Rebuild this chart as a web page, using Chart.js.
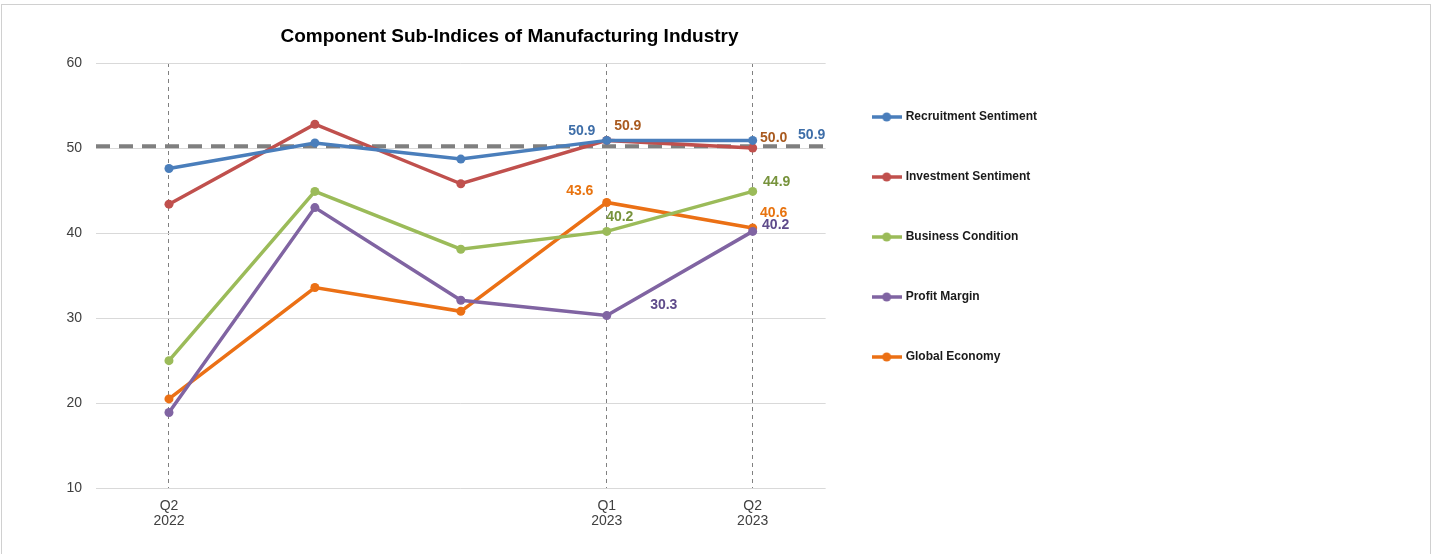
<!DOCTYPE html>
<html>
<head>
<meta charset="utf-8">
<script src="https://cdn.jsdelivr.net/npm/chart.js@4.4.0/dist/chart.umd.min.js"></script>
<style>
  body { margin: 0; background: #fff; width: 1435px; height: 554px; overflow: hidden; position: relative; }
  #frame { position: absolute; left: 1px; top: 4px; width: 1428px; height: 570px; border: 1px solid #d0d0d0; }
  #wrap { position: absolute; left: -28px; top: 0; width: 1075px; height: 554px; }
</style>
</head>
<body>
<div id="frame"></div>
<div id="wrap"><canvas id="myChart"></canvas></div>
<script>
// Quarters on the x-axis, only some of them get a label
var quarters = ["Q2 2022", "Q3 2022", "Q4 2022", "Q1 2023", "Q2 2023"];
var tickLabels = [["Q2", "2022"], "", "", ["Q1", "2023"], ["Q2", "2023"]];

// Sub-index values
var recruitment = [47.6, 50.6, 48.7, 50.9, 50.9];
var investment = [43.4, 52.8, 45.8, 50.9, 50.0];
var business = [25.0, 44.9, 38.1, 40.2, 44.9];
var profit = [18.9, 43.0, 32.1, 30.3, 40.2];
var globalEcon = [20.5, 33.6, 30.8, 43.6, 40.6];

// the dashed reference line
var threshold = 50.2;

// value labels: dataset, point index, offset and colour
var valueLabels = [
  { ds: 0, i: 3, dx: -25, dy: -9, color: "#3e6ea8" },
  { ds: 0, i: 4, dx: 59, dy: -5, color: "#3e6ea8" },
  { ds: 1, i: 3, dx: 21, dy: -14, color: "#a95a1f" },
  { ds: 1, i: 4, dx: 21, dy: -10, color: "#a95a1f" },
  { ds: 2, i: 3, dx: 13, dy: -14, color: "#77933c" },
  { ds: 2, i: 4, dx: 24, dy: -9, color: "#77933c" },
  { ds: 3, i: 3, dx: 57, dy: -10, color: "#5f4b8b" },
  { ds: 3, i: 4, dx: 23, dy: -6, color: "#5f4b8b" },
  { ds: 4, i: 3, dx: -27, dy: -11, color: "#e8730f" },
  { ds: 4, i: 4, dx: 21, dy: -15, color: "#e8730f" }
];

function legendIcon(color) {
  var c = document.createElement("canvas");
  c.width = 30;
  c.height = 10;
  var g = c.getContext("2d");
  g.strokeStyle = color;
  g.lineWidth = 3.5;
  g.beginPath();
  g.moveTo(0, 5);
  g.lineTo(30, 5);
  g.stroke();
  g.fillStyle = color;
  g.beginPath();
  g.arc(15, 5, 4.5, 0, Math.PI * 2);
  g.fill();
  return c;
}

function series(label, data, color) {
  return {
    label: label,
    data: data,
    borderColor: color,
    backgroundColor: color,
    borderWidth: 3.5,
    pointRadius: 4.5,
    pointHoverRadius: 4.5,
    pointBorderWidth: 0,
    tension: 0,
    fill: false,
    icon: legendIcon(color)
  };
}

var thresholdLine = {
  id: "thresholdLine",
  beforeDatasetsDraw: function(chart) {
    var ctx = chart.ctx, area = chart.chartArea;
    var y = chart.scales.y.getPixelForValue(threshold);
    ctx.save();
    ctx.strokeStyle = "#7f7f7f";
    ctx.lineWidth = 4;
    ctx.setLineDash([14, 9]);
    ctx.beginPath();
    ctx.moveTo(area.left, y);
    ctx.lineTo(area.right, y);
    ctx.stroke();
    ctx.restore();
  }
};

var pointLabels = {
  id: "pointLabels",
  afterDatasetsDraw: function(chart) {
    var ctx = chart.ctx;
    ctx.save();
    ctx.font = "bold 14px Arial, 'Liberation Sans'";
    ctx.textAlign = "center";
    ctx.textBaseline = "middle";
    valueLabels.forEach(function(l) {
      var pt = chart.getDatasetMeta(l.ds).data[l.i];
      var v = chart.data.datasets[l.ds].data[l.i];
      ctx.fillStyle = l.color;
      ctx.fillText(v.toFixed(1), pt.x + l.dx, pt.y + l.dy);
    });
    ctx.restore();
  }
};

var ctx = document.getElementById("myChart");
var myChart = new Chart(ctx, {
  type: "line",
  data: {
    labels: quarters,
    datasets: [
      series("Recruitment Sentiment", recruitment, "#4a7ebb"),
      series("Investment Sentiment", investment, "#c0504d"),
      series("Business Condition", business, "#9bbb59"),
      series("Profit Margin", profit, "#8064a2"),
      series("Global Economy", globalEcon, "#eb7015")
    ]
  },
  plugins: [thresholdLine, pointLabels],
  options: {
    responsive: true,
    maintainAspectRatio: false,
    animation: false,
    layout: { padding: { bottom: 15 } },
    plugins: {
      title: {
        display: true,
        text: "Component Sub-Indices of Manufacturing Industry",
        color: "#000",
        font: { family: "Arial, 'Liberation Sans'", size: 19, weight: "bold" },
        padding: { top: 25, bottom: 15.2 }
      },
      legend: {
        position: "right",
        align: "start",
        fullSize: false,
        labels: {
          usePointStyle: true,
          pointStyleWidth: 26,
          padding: 48,
          color: "#1a1a1a",
          font: { family: "Arial, 'Liberation Sans'", size: 12, weight: "bold" },
          generateLabels: function(chart) {
            return chart.data.datasets.map(function(ds, i) {
              return {
                text: ds.label,
                fillStyle: ds.borderColor,
                strokeStyle: ds.borderColor,
                lineWidth: 0,
                pointStyle: ds.icon,
                fontColor: "#1a1a1a",
                datasetIndex: i
              };
            });
          }
        }
      },
      tooltip: { enabled: false }
    },
    scales: {
      x: {
        offset: true,
        grid: {
          drawTicks: false,
          lineWidth: 1,
          color: function(c) { return tickLabels[c.index] ? "#808080" : "rgba(0,0,0,0)"; }
        },
        border: { display: false, dash: [4, 4] },
        ticks: {
          padding: 10,
          autoSkip: false,
          maxRotation: 0,
          color: "#404040",
          font: { family: "Arial, 'Liberation Sans'", size: 14, lineHeight: 1.1 },
          callback: function(v, i) { return tickLabels[i]; }
        }
      },
      y: {
        min: 10,
        max: 60,
        afterFit: function(scale) { scale.width = 124; },
        grid: { drawTicks: false, color: "#d9d9d9", lineWidth: 1 },
        border: { display: false },
        ticks: {
          stepSize: 10,
          padding: 14,
          color: "#404040",
          font: { family: "Arial, 'Liberation Sans'", size: 14 }
        }
      }
    }
  }
});
</script>
</body>
</html>
